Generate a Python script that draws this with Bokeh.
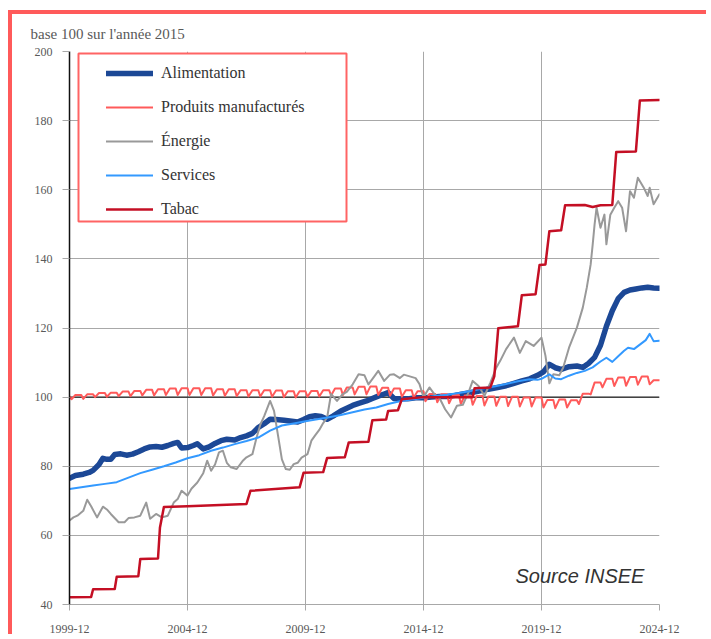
from bokeh.plotting import figure
from bokeh.models import Range1d, FixedTicker, Span, Label, Legend, LegendItem, BoxAnnotation, Title
from bokeh.embed import file_html
from bokeh.resources import INLINE

# ---------------- data ----------------
x_tick_months = [0, 60, 120, 180, 240, 300]
x_tick_labels = ["1999-12", "2004-12", "2009-12", "2014-12", "2019-12", "2024-12"]
y_ticks = [40, 60, 80, 100, 120, 140, 160, 180, 200]
base_value = 100
series_names = ["Alimentation", "Produits manufacturés", "Énergie", "Services", "Tabac"]

# months counted from 1999-12 (0) to 2024-12 (300)
alim_month = [0, 3, 7, 10, 12, 15, 17, 19, 21, 23, 26, 29, 32, 35, 38, 41, 44, 47, 50, 53, 55, 57,
              60, 63, 65, 68, 71, 74, 77, 80, 84, 87, 90, 93, 96, 99, 102, 105, 109, 113, 116, 119,
              122, 125, 128, 131, 134, 138, 141, 144, 147, 151, 154, 157, 160, 162, 165, 168, 172,
              176, 180, 184, 188, 192, 196, 200, 205, 209, 213, 217, 222, 226, 230, 234, 238, 241,
              244, 247, 250, 254, 258, 261, 264, 267, 270, 273, 276, 279, 282, 285, 288, 291, 294,
              297, 300]
alim_value = [76.5, 77.3, 77.7, 78.2, 78.8, 80.5, 82.3, 82.0, 82.0, 83.4, 83.6, 83.2, 83.5, 84.2,
              85.0, 85.6, 85.7, 85.5, 86.0, 86.6, 86.9, 85.3, 85.4, 86.0, 86.5, 85.0, 85.6, 86.6,
              87.4, 87.8, 87.6, 88.3, 88.8, 89.5, 91.2, 92.3, 93.6, 93.5, 93.3, 93.0, 92.8, 93.5,
              94.3, 94.6, 94.4, 93.6, 94.5, 96.0, 96.8, 97.6, 98.2, 98.9, 99.6, 100.3, 100.9, 101.3,
              99.6, 99.5, 99.5, 99.8, 99.8, 100.0, 100.2, 100.2, 100.5, 100.9, 101.4, 101.8, 102.3,
              102.7, 103.3, 104.0, 104.7, 105.3, 106.3, 107.3, 109.5, 108.5, 108.0, 108.8, 109.0,
              108.6, 109.8, 111.5, 115.0, 120.5, 125.0, 128.5, 130.3, 131.0, 131.3, 131.6, 131.8,
              131.6, 131.5]

# produits manufacturés: seasonal sales lows (January, July) and highs
pm_start = 100.2
pm_years = list(range(2000, 2025))
pm_jan_low = [99.4, 100.0, 100.3, 100.5, 100.6, 100.6, 100.5, 100.3, 100.2, 100.0, 100.1, 100.5,
              100.8, 100.6, 100.1, 98.8, 98.2, 97.8, 97.5, 97.3, 97.0, 97.0, 100.8, 103.2, 103.6]
pm_h1_high = [100.6, 101.2, 101.6, 102.1, 102.5, 102.6, 102.3, 102.0, 102.0, 101.7, 101.8, 102.5,
              103.0, 102.7, 102.0, 100.9, 100.6, 100.3, 100.1, 99.9, 99.2, 99.1, 104.2, 105.7, 106.0]
pm_jul_low = [99.5, 100.1, 100.3, 100.5, 100.6, 100.6, 100.4, 100.2, 100.1, 99.9, 100.2, 100.6,
              100.8, 100.4, 99.9, 98.5, 98.0, 97.6, 97.4, 97.3, 96.8, 98.0, 102.8, 103.3, 103.7]
pm_h2_high = [100.8, 101.3, 101.8, 102.3, 102.6, 102.6, 102.3, 102.0, 101.9, 101.7, 102.0, 102.8,
              103.1, 102.5, 101.7, 100.8, 100.5, 100.2, 100.1, 99.9, 99.3, 101.0, 105.3, 105.8, 104.9]

ener_month = [0, 2, 4, 7, 9, 11, 14, 17, 19, 21, 25, 28, 30, 33, 36, 39, 41, 44, 47, 50, 53, 55,
              57, 60, 62, 65, 68, 70, 72, 74, 76, 78, 80, 82, 85, 88, 90, 93, 95, 97, 99, 102, 104,
              106, 108, 110, 112, 114, 116, 118, 121, 123, 125, 127, 129, 131, 133, 136, 139, 141,
              144, 147, 150, 152, 155, 157, 160, 163, 165, 168, 170, 173, 176, 178, 180, 183, 186,
              188, 191, 194, 197, 200, 203, 205, 208, 211, 214, 217, 219, 222, 226, 229, 232, 236,
              240, 242, 244, 246, 249, 251, 254, 258, 261, 263, 265, 266, 267, 268, 270, 272, 273,
              275, 277, 279, 281, 283, 285, 287, 289, 292, 294, 295, 297, 300]
ener_value = [64.3, 65.2, 65.7, 67.1, 70.3, 68.4, 65.2, 68.3, 67.5, 66.2, 63.8, 63.8, 65.0, 65.2,
              65.7, 69.5, 64.8, 66.2, 65.2, 65.7, 69.5, 70.5, 72.9, 71.5, 73.5, 75.3, 78.0, 81.6,
              78.7, 80.5, 84.0, 84.5, 81.0, 79.7, 79.2, 81.5, 82.6, 83.5, 88.0, 92.0, 94.5, 98.9,
              96.0, 89.0, 82.0, 79.2, 79.0, 80.6, 81.0, 82.5, 83.5, 87.4, 89.0, 90.5, 92.5, 94.1,
              100.9, 98.9, 100.9, 101.5, 103.7, 106.6, 106.3, 103.7, 106.0, 107.6, 104.7, 106.5,
              106.6, 105.5, 106.5, 106.0, 105.5, 103.7, 100.0, 102.8, 100.5, 99.9, 96.5, 94.1, 97.5,
              97.8, 101.5, 104.7, 103.2, 100.4, 104.2, 108.5, 110.5, 113.9, 117.2, 112.8, 116.2,
              114.8, 117.2, 112.0, 104.0, 106.6, 106.3, 108.5, 114.3, 120.1, 125.9, 131.6, 138.4,
              144.0, 150.0, 154.8, 149.0, 152.8, 144.2, 152.8, 154.8, 156.7, 154.8, 148.0, 159.6,
              157.7, 163.5, 160.6, 158.2, 160.6, 155.8, 158.7]

serv_month = [0, 6, 12, 18, 24, 30, 36, 42, 48, 54, 60, 66, 72, 78, 84, 90, 96, 102, 108, 114, 120,
              126, 132, 138, 144, 150, 156, 162, 168, 174, 180, 186, 192, 198, 204, 210, 216, 222,
              228, 234, 238, 240, 244, 247, 250, 254, 258, 262, 266, 270, 273, 276, 279, 282, 284,
              287, 290, 293, 295, 297, 300]
serv_value = [73.4, 73.9, 74.4, 74.9, 75.4, 76.7, 78.0, 79.0, 80.0, 81.1, 82.3, 83.2, 84.5, 85.4,
              86.4, 87.3, 88.3, 90.3, 91.8, 92.4, 93.0, 93.6, 94.2, 94.8, 95.6, 96.4, 97.0, 98.0,
              98.8, 99.3, 99.8, 100.3, 100.7, 101.2, 101.8, 102.5, 103.1, 103.8, 104.6, 105.2, 105.0,
              105.3, 106.6, 105.4, 105.2, 106.2, 107.0, 107.6, 108.6, 110.3, 111.4, 110.2, 111.8,
              113.4, 114.3, 113.9, 115.2, 116.5, 118.3, 116.2, 116.3]

tabac_month = [0, 11, 12, 23, 24, 35, 36, 45, 46, 48, 60, 90, 92, 117, 119, 129, 131, 140, 142, 152,
               154, 161, 162, 167, 169, 180, 205, 206, 214, 216, 218, 228, 230, 237, 239, 242, 244,
               250, 252, 262, 266, 270, 276, 278, 288, 290, 300]
tabac_value = [42.1, 42.2, 44.4, 44.5, 48.0, 48.2, 53.2, 53.3, 62.3, 68.2, 68.4, 69.1, 72.9, 73.9,
               78.1, 78.3, 82.4, 82.6, 86.9, 87.1, 93.3, 93.5, 96.0, 96.2, 99.4, 100.0, 100.0, 102.6,
               102.8, 106.0, 119.9, 120.5, 129.5, 129.8, 138.2, 138.4, 148.0, 148.3, 155.5, 155.6,
               155.0, 155.5, 155.6, 170.9, 171.1, 185.8, 186.0]

# build the monthly positions of the manufactured-goods keyframes
pm_month = [0]
pm_value = [pm_start]
for i, yr in enumerate(pm_years):
    b = 12 * (yr - 2000)
    pm_month += [b + 1, b + 3, b + 6, b + 7, b + 9, b + 12]
    pm_value += [pm_jan_low[i], pm_h1_high[i], pm_h1_high[i], pm_jul_low[i], pm_h2_high[i], pm_h2_high[i]]

# ---------------- styles ----------------
colors = ["#1c4896", "#ff5a5a", "#999999", "#3399ff", "#c40f24"]
widths = [5.5, 2, 2, 2, 2.5]
serif = "Liberation Serif"
grid_color = "#a8a8a8"
label_color = "#595959"

p = figure(width=698, height=624, x_range=Range1d(0, 300), y_range=Range1d(40, 200),
           output_backend="svg", toolbar_location=None, tools="",
           min_border_left=57, min_border_right=51, min_border_top=37, min_border_bottom=34,
           styles={"border-left": "4px solid #ff5a5a", "border-top": "4px solid #ff5a5a",
                   "margin-top": "10px", "margin-left": "8px"})
p.outline_line_color = None
p.background_fill_color = "white"
p.border_fill_color = "white"

p.add_layout(Title(text="base 100 sur l'année 2015", align="left", offset=-39, standoff=19,
                   text_font=serif, text_font_size="15px", text_font_style="normal",
                   text_color=label_color), "above")

p.xaxis.ticker = FixedTicker(ticks=x_tick_months)
p.xaxis.major_label_overrides = {m: lab for m, lab in zip(x_tick_months, x_tick_labels)}
p.yaxis.ticker = FixedTicker(ticks=y_ticks)
p.xgrid.ticker = FixedTicker(ticks=x_tick_months)
p.ygrid.ticker = FixedTicker(ticks=y_ticks)
p.grid.grid_line_color = grid_color
p.grid.grid_line_width = 1

for ax in (p.xaxis, p.yaxis):
    ax.major_label_text_font = serif
    ax.major_label_text_font_size = "12px"
    ax.major_label_text_color = label_color
    ax.major_tick_in = 0
    ax.minor_tick_line_color = None
    ax.major_tick_line_color = grid_color
p.xaxis.axis_line_color = grid_color
p.xaxis.major_tick_out = 6
p.xaxis.major_label_standoff = 14
p.yaxis.axis_line_color = "#111111"
p.yaxis.axis_line_width = 1.5
p.yaxis.major_tick_out = 7
p.yaxis.major_label_standoff = 10

p.add_layout(Span(location=base_value, dimension="width", line_color="#222222",
                  line_width=1.2, level="underlay"))

xs = [alim_month, pm_month, ener_month, serv_month, tabac_month]
ys = [alim_value, pm_value, ener_value, serv_value, tabac_value]
renderers = []
for xv, yv, c, w in zip(xs, ys, colors, widths):
    r = p.line(xv, yv, line_color=c, line_width=w, line_join="round", line_cap="round")
    renderers.append(r)

# legend box + legend
p.add_layout(BoxAnnotation(left=9, right=277, top=551, bottom=383,
                           left_units="screen", right_units="screen",
                           top_units="screen", bottom_units="screen",
                           fill_color="white", fill_alpha=1.0,
                           line_color="#ff6464", line_width=2, line_alpha=1.0))
items = [LegendItem(label=n, renderers=[r]) for n, r in zip(series_names, renderers)]
legend = Legend(items=items, location=(37, 385), orientation="vertical", padding=0, margin=0,
                spacing=14, glyph_width=47, glyph_height=20, label_height=20, label_width=150,
                label_standoff=8, border_line_color=None, background_fill_alpha=0,
                label_text_font=serif, label_text_font_size="16px", label_text_color="#333333")
p.add_layout(legend, "center")

p.add_layout(Label(x=446, y=29, x_units="screen", y_units="screen", text="Source INSEE",
                   text_font="Liberation Sans", text_font_style="italic", text_font_size="20px",
                   text_color="#333333", text_baseline="alphabetic", text_align="left"))

open("out.html", "w").write(file_html(p, INLINE))
